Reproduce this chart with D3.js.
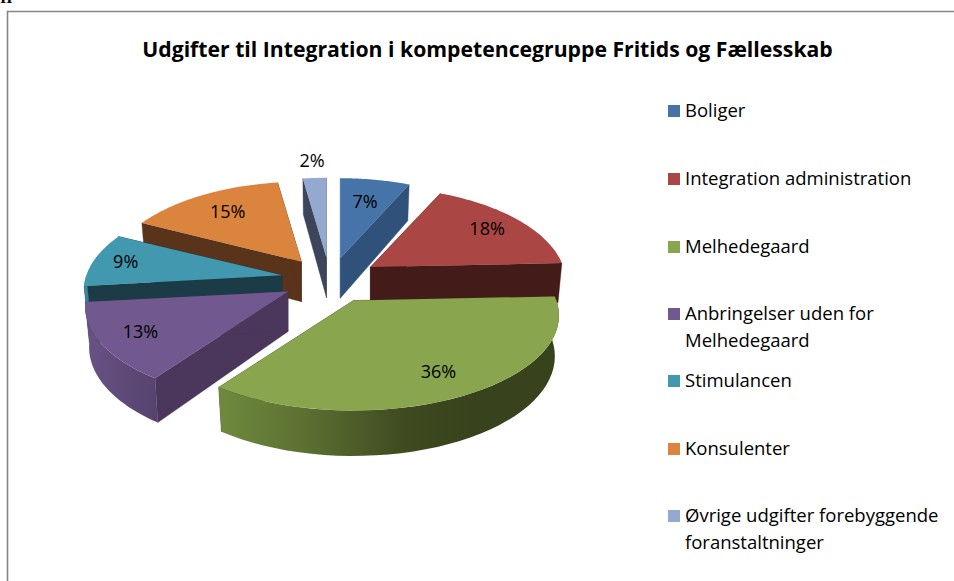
<!DOCTYPE html>
<html><head><meta charset="utf-8">
<style>html,body{margin:0;padding:0;background:#fff;overflow:hidden}svg{display:block}</style>
<script src="https://cdn.jsdelivr.net/npm/d3@7"></script></head>
<body><svg id="c" width="954" height="581"></svg>
<script>
const chartTitle = "Udgifter til Integration i kompetencegruppe Fritids og Fællesskab";
const categories = ["Boliger","Integration administration","Melhedegaard","Anbringelser uden for Melhedegaard","Stimulancen","Konsulenter","Øvrige udgifter forebyggende foranstaltninger"];
const values = [6.8,17.5,35.5,13.4,9.2,15.3,2.3];
const colors = ["#4674a9","#aa4643","#89a54e","#71588f","#4198af","#db843d","#93a9cf"];
const wallColors = ["#30527a","#431c1a","#3a431c","#4a375b","#1b3b47","#59331a","#3c4559"];
const legendLines = [["Boliger"],["Integration administration"],["Melhedegaard"],["Anbringelser uden for","Melhedegaard"],["Stimulancen"],["Konsulenter"],["Øvrige udgifter forebyggende","foranstaltninger"]];
const legendY = [110,178,246,313,380,448,515];
const labelRadii = [.68,.78,.78,.8,.83,.72,1.25];

const FONT = "'Open Sans', Lato, sans-serif";
const svg = d3.select("#c");
const defs = svg.append("defs");

svg.append("text").attr("x",0).attr("y",3).attr("font-family","'Liberation Serif',serif").attr("font-weight","bold").attr("font-size",16).attr("fill","#000").text("II");
svg.append("path").attr("d","M7.5,581V11.5H954").attr("fill","none").attr("stroke","#868686").attr("stroke-width",1.6);

svg.append("text").attr("x",487.5).attr("y",57).attr("text-anchor","middle").attr("font-family",FONT).attr("font-weight","bold").attr("font-size",21.2).attr("fill","#000").text(chartTitle);

// perspective pie projection
const cx=330, cy=279, Rx=203, A=92.6, p=0.158, explode=0.24, explodeY=0.23, frontY=1.15, depth=40;
const pie = d3.pie().sort(null).startAngle(0).endAngle(2*Math.PI);
const arcs = pie(values);
const mid = a=>(a.startAngle+a.endAngle)/2;
const scaleOf = a=>.97-.15*Math.cos(mid(a))*explodeY;
const proj = (a,th,r=1)=>{const u=Math.sin(th)*r,v=-Math.cos(th)*r,f=1/(1-p*v);return [Rx*scaleOf(a)*u*f,A*v*f];};
const apex = a=>{const m=mid(a);const u=Math.sin(m),v=-Math.cos(m);return [cx+Rx*u*explode,cy+A*v*explodeY*(v>0?frontY:1)];};
const line = d3.line();
const rimPts=(a,t0=a.startAngle,t1=a.endAngle)=>d3.range(0,41).map(i=>proj(a,t0+(t1-t0)*i/40));
const upper=(o,q)=>[o[0]+q[0],o[1]+q[1]];
const lower=(o,q)=>[o[0]+q[0]*0.98,o[1]+q[1]*1.05+depth];

const order=[6,0,5,1,4,3,2];
const g=svg.append("g");
order.forEach(i=>{
  const a=arcs[i],o=apex(a),s=g.append("g");
  const rim=rimPts(a);
  const first=rim[0],last=rim[rim.length-1];
  [first,last].forEach(q=>{
    s.append("path").attr("d",line([upper(o,[0,0]),upper(o,q),lower(o,q),lower(o,[0,0])])+"Z").attr("fill",wallColors[i]).attr("stroke",wallColors[i]).attr("stroke-width",.4);
  });
  const t0=Math.max(a.startAngle,Math.PI/2),t1=Math.min(a.endAngle,3*Math.PI/2);
  if(t1>t0){
    const f=rimPts(a,t0,t1);
    const pts=f.map(q=>upper(o,q)).concat(f.slice().reverse().map(q=>lower(o,q)));
    const xs=pts.map(d=>d[0]);
    const id="wall"+i;
    const gr=defs.append("linearGradient").attr("id",id).attr("gradientUnits","userSpaceOnUse").attr("x1",d3.min(xs)).attr("x2",d3.max(xs)).attr("y1",0).attr("y2",0);
    const c=d3.color(colors[i]);
    if(i===2){
      [[0,"#6f8a3e"],[.25,"#5c7032"],[.55,"#3f4a20"],[.75,"#38421c"],[1,"#38421c"]].forEach(d=>gr.append("stop").attr("offset",d[0]).attr("stop-color",d[1]));
    } else {
      gr.append("stop").attr("offset",0).attr("stop-color",c.darker(.2));
      gr.append("stop").attr("offset",1).attr("stop-color",c.darker(.75));
    }
    s.append("path").attr("d",line(pts)+"Z").attr("fill",`url(#${id})`);
  }
  s.append("path").attr("d",line([o].concat(rim.map(q=>upper(o,q))))+"Z").attr("fill",colors[i]);
});

arcs.forEach((a,i)=>{
  const o=apex(a),q=upper(o,proj(a,mid(a),labelRadii[i]));
  svg.append("text").attr("x",q[0]).attr("y",q[1]+6).attr("text-anchor","middle").attr("font-family",FONT).attr("font-size",18).attr("fill","#000").text(Math.round(values[i])+"%");
});

const lg=svg.append("g").attr("font-family",FONT).attr("font-size",18.5).attr("fill","#000");
categories.forEach((c,i)=>{
  const y=legendY[i];
  lg.append("rect").attr("x",668).attr("y",y-5).attr("width",12).attr("height",12).attr("fill",colors[i]);
  legendLines[i].forEach((t,j)=>lg.append("text").attr("x",685).attr("y",y+7+j*26.5).text(t));
});
</script></body></html>
